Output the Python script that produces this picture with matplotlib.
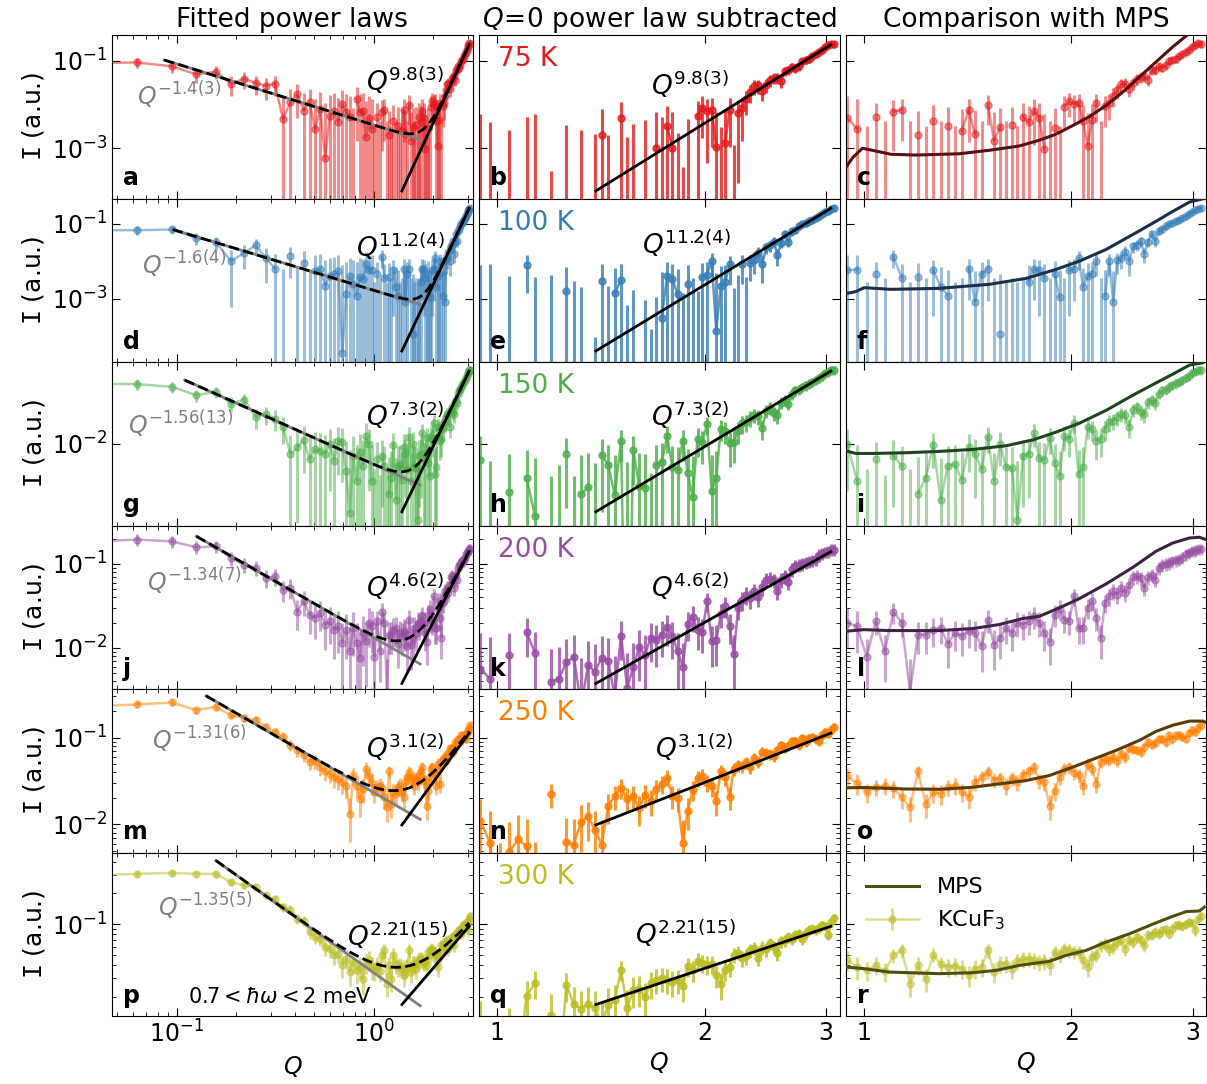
import numpy as np
import matplotlib
matplotlib.use('Agg')
import matplotlib.pyplot as plt
from matplotlib.ticker import FixedLocator, NullLocator, LogLocator

plt.rcParams['font.size'] = 16
plt.rcParams['mathtext.fontset'] = 'dejavusans'

temps = ['75 K', '100 K', '150 K', '200 K', '250 K', '300 K']
colors = ['#e41a1c', '#377eb8', '#4daf4a', '#984ea3', '#ff7f00', '#bcbd22']
mps_colors = ['#5a0f0f', '#1a3048', '#1f4420', '#3d2245', '#5e3a06', '#4e4e10']

# Q bins (evenly spaced)
q_step = 0.0315
Q = q_step * np.arange(1, 99)

I_75K = [0.087, 0.092, 0.075, 0.049, 0.056, 0.030, 0.039, 0.031, 0.027, 0.030,
         0.0047, 0.0113, 0.0176, 0.0073, 0.0113, 0.0027, 0.0079, 0.00061, 0.0056, 0.0073,
         0.0039, 0.0104, 0.0067, 0.0051, -0.002, 0.0135, 0.0067, 0.0073, 0.0018, 0.005,
         0.0028, -0.002, 0.0053, -0.001, 0.0069, 0.0076, -0.001, 0.002, -0.002, 0.0043,
         -0.001, 0.0032, -0.002, 0.0025, 0.0075, 0.0021, -0.001, 0.010, 0.0015, 0.003,
         -0.001, 0.0035, -0.002, 0.0053, 0.0039, 0.0073, 0.005, 0.00095, -0.001, 0.0029,
         -0.002, 0.009, 0.012, 0.0104, 0.011, 0.0043, 0.0011, 0.0044, 0.0107, -0.001,
         0.0095, 0.011, 0.016, 0.022, 0.029, 0.030, 0.023, 0.031, 0.039, 0.043,
         0.044, 0.037, 0.061, 0.063, 0.075, 0.070, 0.079, 0.100, 0.107, 0.113,
         0.128, 0.142, 0.160, 0.180, 0.210, 0.230, 0.250, 0.240]
I_100K = [0.068, 0.068, 0.071, 0.042, 0.033, 0.0101, 0.0169, 0.027, 0.0124, 0.0064,
          -0.002, 0.0137, -0.001, 0.0091, -0.002, 0.0055, 0.0064, 0.0022, 0.004, 0.0045,
          0.0055, 3.4e-5, 0.0013, 0.004, 0.0024, 0.0012, 0.0038, 0.0033, 0.0082, 0.0057,
          0.006, -0.002, 0.0046, -0.001, 0.013, 0.0036, -0.002, 0.0038, -0.001, 0.0057,
          0.0021, 0.0012, -0.002, -0.001, 0.0064, 0.00083, 0.0046, 0.0063, -0.001, 0.00011,
          -0.002, -0.001, -0.002, -0.001, 0.0028, 0.0064, 0.0057, 0.0036, -0.001, 0.0047,
          0.0011, -0.001, 0.0057, 0.0063, 0.012, 0.002, 0.004, 0.0045, 0.010, -0.001,
          0.0012, 0.0101, 0.0008, 0.0105, 0.0124, 0.018, 0.0101, 0.025, 0.028, 0.035,
          0.0158, 0.033, 0.054, 0.0345, 0.064, 0.071, 0.087, 0.100, 0.106, 0.118,
          0.130, 0.145, 0.160, 0.185, 0.205, 0.230, 0.256, 0.270]
I_150K = [0.118, 0.115, 0.103, 0.073, 0.084, 0.052, 0.061, 0.030, 0.034, 0.028,
          0.020, 0.0066, 0.0087, 0.0118, 0.0054, 0.0081, 0.0076, 0.0066, 0.010, 0.005,
          0.0115, 0.0107, 0.0033, 0.0006, 0.0062, 0.0022, 0.0071, 0.0041, 0.014, 0.010,
          0.0022, -0.001, 0.0055, -0.002, 0.0062, 0.0041, -0.001, 0.0013, 0.0025, 0.0097,
          0.001, 0.0041, 0.0044, 0.0023, 0.009, 0.0066, 0.0036, 0.0135, 0.0022, 0.010,
          0.0039, 0.0037, 0.00046, 0.0062, 0.0066, 0.0155, 0.0056, 0.0052, 0.013, 0.0047,
          0.0027, 0.014, 0.0123, 0.024, 0.0029, 0.0039, 0.020, 0.0185, 0.0115, 0.0123,
          0.0185, 0.0244, 0.026, 0.030, 0.034, 0.032, 0.0204, 0.040, 0.045, 0.0367,
          0.0334, 0.055, 0.061, 0.053, 0.078, 0.0896, 0.092, 0.103, 0.110, 0.118,
          0.126, 0.135, 0.150, 0.159, 0.178, 0.190, 0.204, 0.204]
I_200K = [0.183, 0.195, 0.186, 0.158, 0.162, 0.118, 0.098, 0.090, 0.068, 0.071,
          0.049, 0.052, 0.027, 0.036, 0.025, 0.0228, 0.0261, 0.019, 0.0208, 0.0165,
          0.0181, 0.0115, 0.0165, 0.0091, 0.0173, 0.0115, 0.0076, 0.0151, 0.012, 0.020,
          0.018, 0.0079, 0.0208, 0.0091, 0.027, 0.020, 0.003, 0.0144, 0.0144, 0.0165,
          0.0173, 0.0112, 0.0151, 0.0138, 0.016, 0.0151, 0.0105, 0.0217, 0.0108, 0.0131,
          0.0173, 0.0151, 0.020, 0.019, 0.0208, 0.0238, 0.020, 0.0151, 0.0118, 0.025,
          0.029, 0.0217, 0.0208, 0.041, 0.0173, 0.0173, 0.030, 0.036, 0.0228, 0.0131,
          0.0343, 0.0412, 0.0473, 0.0432, 0.0518, 0.045, 0.0568, 0.069, 0.071, 0.068,
          0.0518, 0.069, 0.0746, 0.065, 0.090, 0.098, 0.100, 0.103, 0.108, 0.110,
          0.113, 0.118, 0.131, 0.135, 0.142, 0.144, 0.151, 0.151]
I_250K = [0.226, 0.241, 0.254, 0.207, 0.226, 0.181, 0.169, 0.159, 0.133, 0.116,
          0.102, 0.0815, 0.0713, 0.0624, 0.0522, 0.0532, 0.0457, 0.0407, 0.0383, 0.035,
          0.0335, 0.0306, 0.028, 0.0132, 0.0366, 0.028, 0.0196, 0.0256, 0.0437, 0.036,
          0.0301, 0.0235, 0.0269, 0.028, 0.0261, 0.0206, 0.0157, 0.0407, 0.0172, 0.0235,
          0.0225, 0.0269, 0.028, 0.0239, 0.0206, 0.0306, 0.035, 0.040, 0.0329, 0.0341,
          0.028, 0.0341, 0.0306, 0.0373, 0.0407, 0.0457, 0.0321, 0.0306, 0.0165, 0.0245,
          0.035, 0.0437, 0.0457, 0.0394, 0.0366, 0.0275, 0.050, 0.0437, 0.0293, 0.0522,
          0.0561, 0.0546, 0.0597, 0.0532, 0.0653, 0.0597, 0.0759, 0.0733, 0.0713, 0.0682,
          0.078, 0.0891, 0.083, 0.0875, 0.0974, 0.0974, 0.0891, 0.106, 0.0957, 0.106,
          0.108, 0.102, 0.0974, 0.114, 0.122, 0.116, 0.129, 0.139]
I_300K = [0.294, 0.305, 0.312, 0.305, 0.305, 0.253, 0.236, 0.227, 0.189, 0.175,
          0.146, 0.138, 0.112, 0.108, 0.0838, 0.075, 0.0722, 0.0601, 0.0579, 0.050,
          0.0519, 0.0401, 0.0464, 0.0345, 0.0431, 0.0358, 0.0386, 0.0298, 0.0431, 0.045,
          0.0386, 0.0358, 0.0401, 0.0351, 0.050, 0.0558, 0.0267, 0.0401, 0.0294, 0.0507,
          0.041, 0.0386, 0.0395, 0.0373, 0.0321, 0.0373, 0.0386, 0.0558, 0.0345, 0.0416,
          0.0416, 0.0373, 0.0438, 0.0457, 0.0464, 0.0447, 0.0431, 0.0438, 0.0401, 0.0538,
          0.050, 0.0579, 0.0558, 0.0538, 0.0538, 0.0447, 0.0386, 0.0482, 0.0507, 0.0624,
          0.0647, 0.0579, 0.0601, 0.0672, 0.0697, 0.0579, 0.0697, 0.0672, 0.075, 0.0697,
          0.0624, 0.0778, 0.079, 0.0838, 0.081, 0.0869, 0.0889, 0.081, 0.0902, 0.097,
          0.0985, 0.0956, 0.100, 0.105, 0.103, 0.0869, 0.112, 0.121]
intensities = [I_75K, I_100K, I_150K, I_200K, I_250K, I_300K]

# error model per temperature: constant (Q<1, Q>=1) + fraction of |I|
err_const_lowq = [0.010, 0.008, 0.007, 0.007, 0.006, 0.008]
err_const_highq = [0.005, 0.0045, 0.0045, 0.004, 0.004, 0.006]
err_frac = [0.15, 0.15, 0.15, 0.13, 0.07, 0.04]

# MPS calculation
Q_mps_75K = [0.940, 0.962, 0.994, 1.028, 1.093, 1.189, 1.374, 1.519, 1.680, 1.796,
             1.899, 2.008, 2.123, 2.245, 2.374, 2.510, 2.654, 2.807, 2.968]
I_mps_75K = [3.6e-4, 6.1e-4, 1.0e-3, 9.0e-4, 7.3e-4, 7.0e-4, 7.5e-4, 9.0e-4, 1.13e-3, 1.53e-3,
             2.1e-3, 3.3e-3, 5.3e-3, 9.5e-3, 0.0193, 0.0428, 0.095, 0.21, 0.43]
Q_mps_100K = [0.940, 0.972, 1.0, 1.093, 1.285, 1.519, 1.718, 1.899, 2.054, 2.245,
              2.455, 2.654, 2.807, 2.968, 3.103]
I_mps_100K = [1.36e-3, 1.54e-3, 1.96e-3, 1.77e-3, 1.88e-3, 2.41e-3, 3.48e-3, 6.05e-3, 0.0101, 0.0207,
              0.052, 0.118, 0.218, 0.386, 0.47]
Q_mps_150K = [0.940, 0.972, 1.028, 1.150, 1.285, 1.437, 1.606, 1.757, 1.899, 2.054,
              2.245, 2.455, 2.654, 2.807, 2.968, 3.103]
I_mps_150K = [7.6e-3, 6.8e-3, 6.8e-3, 7.0e-3, 7.4e-3, 8.0e-3, 9.3e-3, 0.0118, 0.0162, 0.0234,
              0.0394, 0.073, 0.121, 0.173, 0.25, 0.275]
Q_mps_200K = [0.940, 1.0, 1.087, 1.285, 1.437, 1.571, 1.699, 1.796, 1.920, 2.054,
              2.245, 2.455, 2.654, 2.807, 2.968, 3.068, 3.12]
I_mps_200K = [0.0158, 0.0165, 0.0161, 0.0161, 0.0170, 0.019, 0.0224, 0.0238, 0.030, 0.0387,
              0.0578, 0.091, 0.142, 0.178, 0.204, 0.208, 0.198]
Q_mps_250K = [0.940, 1.0, 1.150, 1.285, 1.437, 1.571, 1.718, 1.857, 2.008, 2.147,
              2.322, 2.510, 2.654, 2.807, 2.968, 3.103, 3.138]
I_mps_250K = [0.0264, 0.0266, 0.0256, 0.0254, 0.0268, 0.0293, 0.032, 0.0366, 0.0457, 0.0561,
              0.0713, 0.093, 0.118, 0.139, 0.155, 0.155, 0.149]
Q_mps_300K = [0.940, 1.0, 1.087, 1.285, 1.437, 1.554, 1.680, 1.857, 1.964, 2.100,
              2.245, 2.428, 2.654, 2.807, 2.935, 3.068, 3.12]
I_mps_300K = [0.0386, 0.0372, 0.0345, 0.0333, 0.034, 0.0358, 0.040, 0.0438, 0.050, 0.0558,
              0.0671, 0.0807, 0.103, 0.119, 0.132, 0.134, 0.146]
Q_mps = [Q_mps_75K, Q_mps_100K, Q_mps_150K, Q_mps_200K, Q_mps_250K, Q_mps_300K]
I_mps = [I_mps_75K, I_mps_100K, I_mps_150K, I_mps_200K, I_mps_250K, I_mps_300K]

# fitted power laws: amp_lo * Q^-exp_lo + amp_hi * Q^exp_hi
amp_lo = [0.0034, 0.00166, 0.00433, 0.0133, 0.0233, 0.034]
exp_lo = [1.4, 1.6, 1.56, 1.34, 1.31, 1.35]
amp_hi = [4.2e-6, 9.9e-7, 5.7e-5, 8.3e-4, 3.55e-3, 8.1e-3]
exp_hi = [9.8, 11.2, 7.3, 4.6, 3.1, 2.21]
fit_qmin = [0.0865, 0.0955, 0.110, 0.126, 0.141, 0.158]
# amplitude of the Q=0 power law removed in the middle column
sub_amp = [0.009, 0.006, 0.00433, 0.0133, 0.0233, 0.034]
lo_labels = ['-1.4(3)', '-1.6(4)', '-1.56(13)', '-1.34(7)', '-1.31(6)', '-1.35(5)']
hi_labels = ['9.8(3)', '11.2(4)', '7.3(2)', '4.6(2)', '3.1(2)', '2.21(15)']

ylims = [(7.1e-5, 0.39), (2.0e-5, 0.48), (3.6e-4, 0.283),
         (3.24e-3, 0.287), (4.74e-3, 0.363), (0.013, 0.49)]
yticks = [[1e-1, 1e-3], [1e-1, 1e-3], [1e-2], [1e-1, 1e-2], [1e-1, 1e-2], [1e-1]]

lo_pos = [(0.07, 0.63), (0.082, 0.60), (0.045, 0.62), (0.097, 0.66), (0.11, 0.69), (0.127, 0.67)]
hi_pos1 = [(0.703, 0.72), (0.677, 0.70), (0.703, 0.67), (0.703, 0.62), (0.703, 0.64), (0.652, 0.49)]
hi_pos2 = [(0.478, 0.69), (0.452, 0.72), (0.478, 0.67), (0.478, 0.62), (0.488, 0.64), (0.432, 0.50)]
letters = 'abcdefghijklmnopqr'


def draw_data(ax, q, y, err, color, alpha):
    y = np.asarray(y, dtype=float)
    ypos = np.where(y > 0, y, np.nan)
    cont = ax.errorbar(q, ypos, yerr=err, fmt='o-', color=color, ms=5, lw=1.8,
                       elinewidth=2.2, capsize=0, alpha=alpha, zorder=2)
    neg = (y <= 0) & (y + err > 0)
    ax.vlines(q[neg], 1e-9, y[neg] + err[neg], color=color, lw=2.2, alpha=alpha, zorder=2)
    return cont


fig, axes = plt.subplots(6, 3, figsize=(12.07, 10.84), dpi=100, sharey='row')
fig.subplots_adjust(left=0.0928, right=0.9995, top=0.9677, bottom=0.0627,
                    wspace=0.017, hspace=0)

for r in range(6):
    I = np.array(intensities[r])
    err = np.where(Q < 1, err_const_lowq[r], err_const_highq[r]) + err_frac[r] * np.abs(I)
    col = colors[r]
    a0, b0 = amp_lo[r], exp_lo[r]
    a1, b1 = amp_hi[r], exp_hi[r]

    for c in range(3):
        axes[r, c].set_yscale('log')
        axes[r, c].set_xscale('log')

    # fitted power laws
    ax = axes[r, 0]
    draw_data(ax, Q, I, err, col, 0.5)
    q_lo = np.geomspace(fit_qmin[r], 1.72, 100)
    q_all = np.geomspace(fit_qmin[r], 3.05, 200)
    q_hi = np.geomspace(1.39, 3.05, 50)
    ax.plot(q_lo, a0 * q_lo ** -b0, color='0.5', lw=2, zorder=3)
    ax.plot(q_all, a0 * q_all ** -b0 + a1 * q_all ** b1, 'k--', lw=2, zorder=4)
    ax.plot(q_hi, a1 * q_hi ** b1, 'k-', lw=2, zorder=5)
    ax.text(*lo_pos[r], r'$Q^{%s}$' % lo_labels[r], transform=ax.transAxes,
            color='0.5', fontsize=17, ha='left', va='center')
    ax.text(*hi_pos1[r], r'$Q^{%s}$' % hi_labels[r], transform=ax.transAxes,
            fontsize=19, ha='left', va='center')
    ax.set_xlim(0.047, 3.18)
    ax.set_ylabel(r'$\mathtt{I}$ (a.u.)', fontsize=18)

    # Q=0 power law subtracted
    ax = axes[r, 1]
    draw_data(ax, Q, I - sub_amp[r] * Q ** -b0, err, col, 0.8)
    ax.plot(q_hi, a1 * q_hi ** b1, 'k-', lw=2, zorder=5)
    ax.text(*hi_pos2[r], r'$Q^{%s}$' % hi_labels[r], transform=ax.transAxes,
            fontsize=19, ha='left', va='center')
    ax.text(0.053, 0.93, temps[r], transform=ax.transAxes, color=col,
            fontsize=19, ha='left', va='top')

    # comparison with MPS
    ax = axes[r, 2]
    cont = draw_data(ax, Q, I, err, col, 0.5)
    mps_line, = ax.plot(Q_mps[r], I_mps[r], color=mps_colors[r], lw=2.2, zorder=4)
    if r == 5:
        ax.legend([mps_line, cont], ['MPS', r'KCuF$_3$'], loc='upper left',
                  frameon=False, fontsize=16, handlelength=2.4,
                  bbox_to_anchor=(0.0, 0.97))

    for c in range(3):
        ax = axes[r, c]
        ax.text(0.03, 0.05, letters[3 * r + c], transform=ax.transAxes,
                fontsize=17, fontweight='bold', ha='left', va='bottom', zorder=6)
        if c > 0:
            ax.set_xlim(0.94, 3.14)
            ax.xaxis.set_major_locator(FixedLocator([1, 2, 3]))
            ax.set_xticklabels(['1', '2', '3'])
            ax.xaxis.set_minor_locator(NullLocator())
        ax.tick_params(which='both', direction='in', top=True, right=True)
        ax.tick_params(which='major', length=6, labelsize=17)
        ax.tick_params(which='minor', length=3)
        if r < 5:
            ax.tick_params(labelbottom=False)
        else:
            ax.set_xlabel(r'$Q$', fontsize=17)

    axes[r, 0].set_ylim(*ylims[r])
    axes[r, 0].yaxis.set_major_locator(FixedLocator(yticks[r]))
    if r < 3:
        axes[r, 0].yaxis.set_minor_locator(NullLocator())
    else:
        axes[r, 0].yaxis.set_minor_locator(LogLocator(subs=np.arange(2, 10)))

axes[5, 0].text(0.21, 0.115, r'$0.7<\hbar\omega<2$ meV', transform=axes[5, 0].transAxes,
                fontsize=15, ha='left', va='center')

axes[0, 0].set_title('Fitted power laws', fontsize=19, pad=6)
axes[0, 1].set_title(r'$Q\!=\!0$ power law subtracted', fontsize=19, pad=6)
axes[0, 2].set_title('Comparison with MPS', fontsize=19, pad=6)

fig.savefig('out.png', dpi=100)
